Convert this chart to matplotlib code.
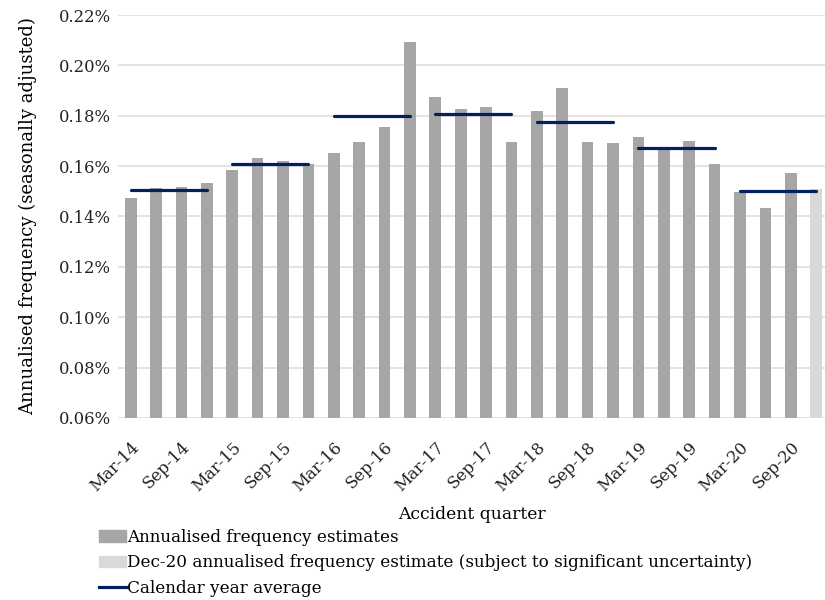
import matplotlib
matplotlib.use("Agg")
import matplotlib.pyplot as plt
import numpy as np
from matplotlib.ticker import MultipleLocator, FuncFormatter
from matplotlib.patches import Patch
from matplotlib.lines import Line2D

plt.rcParams['font.family'] = ['DejaVu Serif']

# quarters Mar-14 .. Dec-20
months = ["Mar", "Jun", "Sep", "Dec"]
years = [14, 15, 16, 17, 18, 19, 20]
quarters = [m + "-" + str(y) for y in years for m in months]

# annualised frequency estimates (%)
freq = [0.1473, 0.1515, 0.1518, 0.1534,
        0.1585, 0.1634, 0.1620, 0.1608,
        0.1654, 0.1697, 0.1755, 0.2093,
        0.1875, 0.1825, 0.1835, 0.1694,
        0.1820, 0.1910, 0.1695, 0.1691,
        0.1715, 0.1668, 0.1700, 0.1609,
        0.1497, 0.1433, 0.1571, 0.1511]

# calendar year averages (%)
year_avg = [0.1507, 0.1610, 0.1798, 0.1805, 0.1777, 0.1673, 0.1502]

bar_col = "#a6a6a6"
light_col = "#d9d9d9"
line_col = "#002060"

fig = plt.figure(figsize=(8.25, 6), dpi=100)
ax = fig.add_axes([118/825, 1-418/600, 707/825, 403/600])

x = np.arange(len(quarters))
cols = [bar_col]*(len(quarters)-1) + [light_col]
ax.bar(x, freq, width=0.46, color=cols, zorder=2)

# year average lines from first to last quarter of each year
for i, v in enumerate(year_avg):
    ax.plot([4*i, 4*i+3], [v, v], color=line_col, lw=2.3, solid_capstyle='round', zorder=3)

ax.set_ylim(0.06, 0.22)
ax.set_xlim(-0.5, 27.35)
ax.yaxis.set_major_locator(MultipleLocator(0.02))
ax.yaxis.set_major_formatter(FuncFormatter(lambda v, p: "%.2f%%" % v))
ax.grid(axis='y', color='#dedede', lw=1.2, zorder=0)
ax.set_axisbelow(True)
for s in ax.spines.values():
    s.set_visible(False)
ax.tick_params(length=0, labelsize=11.8, colors='#222222')
ax.tick_params(axis='y', pad=5)

ax.set_xticks(x[::2])
ax.set_xticklabels(quarters[::2], rotation=45, ha='right', rotation_mode='anchor', fontsize=12)
ax.tick_params(axis='x', pad=15)

ax.set_xlabel("Accident quarter", fontsize=12.3, labelpad=8)
ax.set_ylabel("Annualised frequency (seasonally adjusted)", fontsize=13, labelpad=16)

handles = [Patch(color=bar_col), Patch(color=light_col), Line2D([0], [0], color=line_col, lw=2.3)]
labels = ["Annualised frequency estimates",
          "Dec-20 annualised frequency estimate (subject to significant uncertainty)",
          "Calendar year average"]
fig.legend(handles, labels, loc='upper left', bbox_to_anchor=(99/825, 1-529/600),
           frameon=False, fontsize=12.1, handlelength=1.6, handletextpad=0.05,
           labelspacing=0.5, borderaxespad=0, borderpad=0)

fig.savefig("out.png", dpi=100)
